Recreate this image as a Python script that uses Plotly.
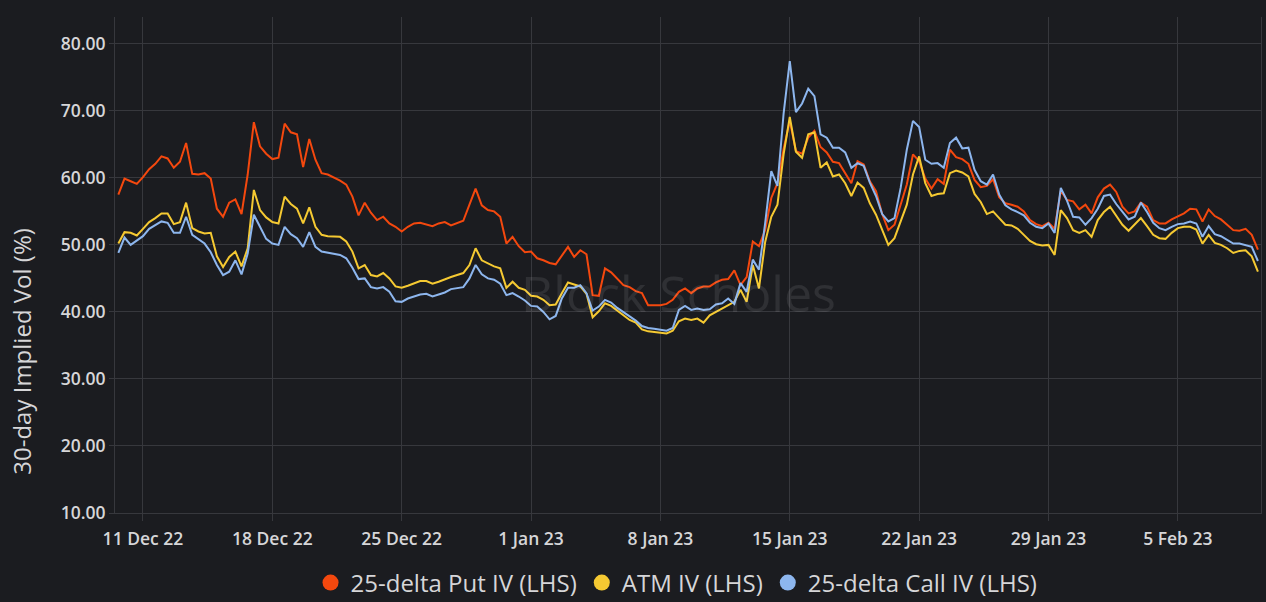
import pandas as pd
import plotly.graph_objects as go

# 8-hourly timestamps
start_time = "2022-12-09 16:00"
n_points = 186
dates = pd.date_range(start_time, periods=n_points, freq="8h")

put_iv = [
    57.5, 59.9, 59.5, 59.1, 60.1, 61.3, 62.1, 63.2, 62.9, 61.5,
    62.4, 65.2, 60.6, 60.5, 60.7, 59.9, 55.4, 54.2, 56.3, 56.8,
    54.6, 60.5, 68.3, 64.7, 63.6, 62.8, 63.0, 68.1, 66.8, 66.5,
    61.6, 65.8, 62.7, 60.7, 60.5, 60.1, 59.6, 59.0, 57.2, 54.4,
    56.3, 54.8, 53.7, 54.2, 53.2, 52.7, 52.0, 52.7, 53.2, 53.3,
    53.0, 52.8, 53.2, 53.4, 52.9, 53.2, 53.6, 56.0, 58.4, 55.9,
    55.2, 55.0, 54.2, 50.2, 51.2, 49.8, 48.9, 49.0, 48.0, 47.7,
    47.3, 47.1, 48.5, 49.7, 48.2, 49.2, 48.6, 42.5, 42.4, 46.5,
    45.9, 45.0, 44.0, 43.7, 43.1, 42.8, 41.0, 41.0, 41.0, 41.2,
    41.8, 43.0, 43.5, 42.8, 43.5, 43.8, 43.8, 44.4, 44.8, 44.9,
    46.2, 44.0, 45.2, 50.5, 49.8, 52.2, 57.0, 59.2, 64.3, 68.5,
    64.0, 63.6, 66.0, 67.0, 64.6, 63.8, 62.4, 62.2, 60.8, 59.2,
    62.5, 62.0, 59.5, 58.0, 54.6, 52.2, 53.0, 56.2, 59.0, 63.5,
    62.5, 59.9, 58.4, 59.8, 59.1, 64.2, 63.1, 62.8, 62.1, 59.7,
    58.6, 58.8, 59.8, 57.1, 56.2, 56.0, 55.7, 55.0, 53.7, 53.1,
    52.8, 53.3, 52.4, 58.1, 56.7, 56.5, 55.3, 56.0, 54.7, 57.1,
    58.4, 59.0, 57.9, 55.7, 54.7, 55.0, 56.3, 55.7, 53.7, 53.2,
    53.2, 53.8, 54.2, 54.7, 55.4, 55.3, 53.5, 55.3, 54.3, 53.8,
    53.0, 52.2, 52.1, 52.4, 51.5, 49.3,
]

atm_iv = [
    50.2, 51.9, 51.8, 51.4, 52.4, 53.4, 54.0, 54.7, 54.7, 53.1,
    53.4, 56.3, 52.5, 52.0, 51.7, 51.8, 48.3, 46.7, 48.2, 49.0,
    46.8, 49.5, 58.2, 55.2, 54.1, 53.4, 53.2, 57.2, 56.1, 55.4,
    53.2, 55.6, 52.7, 51.5, 51.3, 51.2, 51.2, 50.5, 49.0, 46.5,
    47.0, 45.5, 45.3, 45.8, 45.0, 43.8, 43.6, 43.9, 44.3, 44.6,
    44.6, 44.2, 44.5, 44.9, 45.2, 45.5, 45.8, 47.0, 49.5, 47.7,
    47.2, 46.8, 46.5, 43.6, 44.5, 43.6, 43.3, 42.4, 42.3, 41.8,
    41.0, 41.1, 42.8, 44.4, 44.1, 43.8, 42.7, 39.2, 40.1, 41.3,
    40.9, 40.2, 39.5, 38.8, 38.4, 37.4, 37.1, 37.0, 36.9, 36.8,
    37.2, 38.6, 39.0, 38.8, 39.0, 38.4, 39.5, 40.0, 40.4, 41.0,
    41.5, 43.3, 41.5, 47.0, 43.5, 50.4, 54.2, 56.0, 63.5, 69.1,
    63.9, 63.0, 66.5, 66.8, 61.5, 62.3, 60.2, 60.5, 59.2, 57.3,
    59.3, 58.5, 56.2, 54.5, 52.1, 50.0, 51.0, 53.6, 56.0, 60.5,
    63.2, 59.2, 57.3, 57.6, 57.7, 60.7, 61.1, 60.8, 60.2, 57.6,
    56.4, 54.6, 55.0, 54.0, 53.0, 52.9, 52.4, 51.5, 50.6, 50.1,
    49.9, 50.0, 48.5, 55.2, 54.0, 52.2, 51.8, 52.2, 51.2, 53.7,
    54.9, 55.7, 54.4, 53.0, 52.1, 53.0, 54.0, 52.8, 51.5, 51.0,
    50.9, 51.8, 52.5, 52.7, 52.7, 52.3, 50.2, 51.5, 50.3, 50.0,
    49.5, 48.8, 49.1, 49.2, 48.3, 46.0,
]

call_iv = [
    48.8, 51.1, 50.0, 50.7, 51.3, 52.4, 53.0, 53.5, 53.3, 51.8,
    51.8, 54.2, 51.5, 50.9, 50.2, 48.9, 47.0, 45.5, 46.0, 47.7,
    45.6, 48.7, 54.5, 52.7, 50.9, 50.2, 50.0, 52.7, 51.6, 51.0,
    49.7, 51.9, 49.7, 49.0, 48.8, 48.6, 48.5, 48.0, 46.6, 44.9,
    45.0, 43.7, 43.5, 43.7, 43.0, 41.6, 41.5, 42.0, 42.3, 42.6,
    42.7, 42.3, 42.6, 42.9, 43.4, 43.6, 43.7, 45.0, 47.0, 45.6,
    45.0, 44.8, 44.2, 42.5, 42.8, 42.3, 41.7, 40.9, 40.8, 40.0,
    38.9, 39.4, 42.0, 43.6, 43.6, 44.0, 42.8, 40.2, 40.8, 41.8,
    41.4, 40.6, 40.0, 39.3, 38.7, 37.9, 37.6, 37.5, 37.4, 37.2,
    37.6, 40.3, 40.9, 40.3, 40.5, 40.3, 40.4, 41.1, 41.3, 42.0,
    41.2, 44.3, 43.0, 47.8, 46.3, 53.2, 61.0, 58.8, 69.6, 77.4,
    69.8, 71.1, 73.3, 72.2, 66.5, 66.0, 64.5, 64.5, 63.8, 61.5,
    62.2, 61.8, 59.3, 57.3, 54.6, 53.5, 54.0, 58.5, 64.2, 68.5,
    67.6, 62.7, 62.1, 62.2, 61.5, 65.2, 66.0, 64.4, 64.5, 61.2,
    59.5, 59.0, 60.5, 57.5, 55.9, 55.3, 54.9, 54.4, 53.3, 52.7,
    52.5, 53.2, 51.8, 58.5, 56.6, 54.2, 54.1, 53.0, 54.0, 55.4,
    57.3, 57.5, 56.1, 55.0, 53.8, 54.2, 56.3, 54.9, 53.3, 52.5,
    52.2, 52.7, 53.1, 53.2, 53.5, 53.2, 51.2, 52.8, 51.6, 51.3,
    50.7, 50.2, 50.2, 50.0, 49.7, 47.6,
]

series_names = ["25-delta Put IV (LHS)", "ATM IV (LHS)", "25-delta Call IV (LHS)"]
series_colors = ["#F4480E", "#F5C932", "#8DB6EE"]
series_values = [put_iv, atm_iv, call_iv]

y_title = "30-day Implied Vol (%)"
watermark = "Block Scholes"

BG = "#1b1c20"
GRID = "#37383d"
TXT = "#d6d6d8"
FONT = "Open Sans"

fig = go.Figure()
for name, color, vals in zip(series_names, series_colors, series_values):
    fig.add_trace(go.Scatter(x=dates, y=vals, mode="lines", name=name,
                             line=dict(color=color, width=2), showlegend=False,
                             hoverinfo="skip"))
for name, color in zip(series_names, series_colors):
    fig.add_trace(go.Scatter(x=[None], y=[None], mode="markers", name=name,
                             marker=dict(color=color, size=16, symbol="circle"),
                             showlegend=True))

fig.update_layout(
    width=1266, height=602,
    paper_bgcolor=BG, plot_bgcolor=BG,
    margin=dict(l=115, r=5, t=17, b=89, autoexpand=False),
    font=dict(family=FONT, color=TXT),
    legend=dict(orientation="h", x=0.49, xanchor="center", y=-0.141, yanchor="middle",
                font=dict(size=24, family=FONT, color=TXT), bgcolor="rgba(0,0,0,0)",
                itemsizing="trace"),
    annotations=[
        dict(text=y_title, textangle=-90, xref="paper", yref="paper",
             x=-0.0812, y=0.327, xanchor="center", yanchor="middle", showarrow=False,
             font=dict(size=24, family=FONT, color=TXT)),
        dict(text=watermark, xref="paper", yref="paper", x=0.4915, y=0.4435,
             xanchor="center", yanchor="middle", showarrow=False,
             font=dict(size=50, family=FONT, color="rgba(255,255,255,0.09)")),
    ],
)
fig.update_xaxes(
    range=["2022-12-09 11:40", "2023-02-09 12:00"],
    tick0="2022-12-11", dtick=7 * 86400000, tickformat="%-d %b %y",
    showgrid=True, gridcolor=GRID, gridwidth=1,
    ticks="outside", ticklen=7, tickcolor=GRID, ticklabelstandoff=3,
    showline=True, linecolor=GRID, mirror=False, zeroline=False,
    tickfont=dict(size=17.5, family=FONT, color=TXT, weight=600),
)
fig.update_yaxes(
    range=[10, 84], tick0=10, dtick=10, tickformat=".2f",
    showgrid=True, gridcolor=GRID, gridwidth=1,
    ticks="outside", ticklen=5, tickcolor=GRID,
    showline=True, linecolor=GRID, mirror=True, zeroline=False,
    tickfont=dict(size=17.5, family=FONT, color=TXT, weight=600),
)

fig.write_html("out.html")
